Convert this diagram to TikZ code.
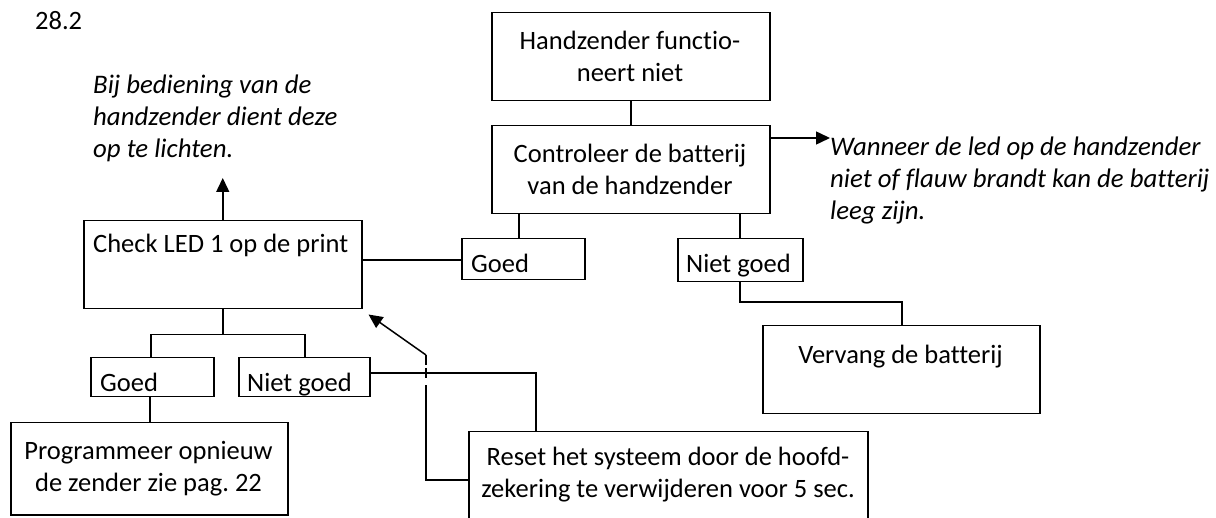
\documentclass[tikz,border=0pt]{standalone}
\usepackage{fontspec}
\setmainfont{Carlito}[Ligatures={NoCommon}]
\usetikzlibrary{arrows.meta}
\frenchspacing
\begin{document}
\begin{tikzpicture}[x=1pt,y=-1pt,
  every node/.style={font=\fontsize{26.5}{32}\selectfont, inner sep=0pt},
  box/.style={draw, line width=1.5pt, anchor=north west},
  conn/.style={line width=1.5pt},
  arr/.style={line width=1.5pt, -{Triangle[length=14pt,width=13pt]}},
  note/.style={font=\fontsize{26.8}{32}\selectfont\itshape, align=left, anchor=west},
  lbl/.style={anchor=base west},
  ctext/.style={align=center}]
\useasboundingbox (0,0) rectangle (1216,518);
\clip (0,0) rectangle (1216,518);
% boxes
\node[box, minimum width=278pt, minimum height=88pt] (hz) at (491,12) {};
\node[box, minimum width=278pt, minimum height=88pt] (ctrl) at (491,125) {};
\node[box, minimum width=123pt, minimum height=41pt] (goedA) at (461,238) {};
\node[box, minimum width=125pt, minimum height=43pt] (nietA) at (677,238) {};
\node[box, minimum width=278pt, minimum height=88pt] (check) at (83,220) {};
\node[box, minimum width=123pt, minimum height=39pt] (goedB) at (90,357) {};
\node[box, minimum width=131pt, minimum height=39pt] (nietB) at (238,357) {};
\node[box, minimum width=277pt, minimum height=92pt] (prog) at (10,422) {};
\node[box, minimum width=277pt, minimum height=88pt] (verv) at (762,325) {};
\node[box, minimum width=399pt, minimum height=120pt] (reset) at (468,431) {};
% texts
\node[lbl] (num) at (35,30) {28.2};
\node[note] (noteA) at (93,118) {Bij bediening van de\\handzender dient deze\\op te lichten.};
\node[note] (noteB) at (830,180) {Wanneer de led op de handzender\\niet of flauw brandt kan de batterij\\leeg zijn.};
\node[ctext] at (630,56) {Handzender functio-\\neert niet};
\node[ctext] at (630,169) {Controleer de batterij\\van de handzender};
\node[lbl] at (93,253) {Check LED 1 op de print};
\node[lbl] at (471,273) {Goed};
\node[lbl] at (686,273) {Niet goed};
\node[lbl] at (100,392) {Goed};
\node[lbl] at (247,392) {Niet goed};
\node[ctext] at (148.5,469) {Programmeer opnieuw\\de zender zie pag. 22};
\node[anchor=base] at (900.5,364) {Vervang de batterij};
\node[ctext] at (668,475) {Reset het systeem door de hoofd-\\zekering te verwijderen voor 5 sec.};
% connectors
\draw[conn] (hz.south) -- (ctrl.north);
\draw[conn] ([xshift=58pt]goedA.north west |- ctrl.south) -- ([xshift=58pt]goedA.north west);
\draw[conn] ([xshift=63pt]nietA.north west |- ctrl.south) -- ([xshift=63pt]nietA.north west);
\draw[arr] ([yshift=-13pt]ctrl.north east) -- ([yshift=-13pt]ctrl.north east -| noteB.west);
\draw[conn] (goedA.west |- 0,260) -- (check.east |- 0,260);
\draw[arr] (check.north) -- ++(0,-42);
\draw[conn] (check.south) -- ++(0,25) coordinate (split);
\draw[conn] ([xshift=61pt]goedB.north west) |- (split) -| ([xshift=67pt]nietB.north west);
\draw[conn] (goedB.south -| 150,0) -- (prog.north -| 150,0);
\draw[conn] (nietB.east |- 0,373) -| ([xshift=68pt]reset.north west);
\draw[conn] ([xshift=63pt]nietA.south west) |- (902,302) -- (verv.north -| 902,0);
% jump line from reset to check
\coordinate (jtop) at (426,355);
\draw[conn] (reset.north west |- 0,480) -| (426,385);
\draw[conn] (426,368) -- (426,378);
\draw[conn] (426,365) -- (jtop);
\draw[arr] (jtop) -- ([xshift=6pt,yshift=-5pt]check.south east);
\end{tikzpicture}
\end{document}
